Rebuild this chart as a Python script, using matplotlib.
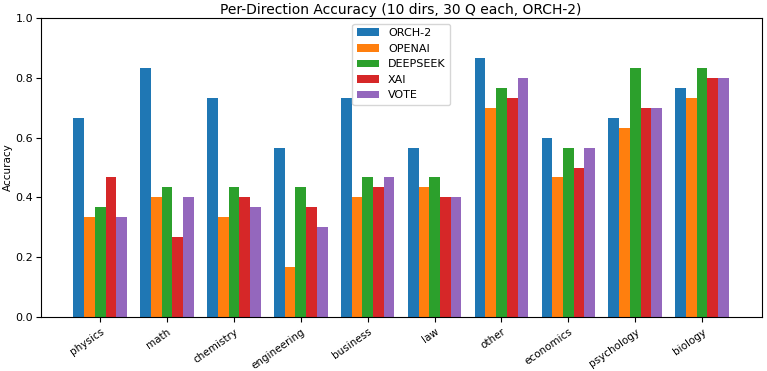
import matplotlib
matplotlib.use("Agg")
import matplotlib.pyplot as plt
import numpy as np

directions = ["physics", "math", "chemistry", "engineering", "business",
              "law", "other", "economics", "psychology", "biology"]
models = ["ORCH-2", "OPENAI", "DEEPSEEK", "XAI", "VOTE"]

# correct answers out of 30 per direction
orch2 = [20, 25, 22, 17, 22, 17, 26, 18, 20, 23]
openai = [10, 12, 10, 5, 12, 13, 21, 14, 19, 22]
deepseek = [11, 13, 13, 13, 14, 14, 23, 17, 25, 25]
xai = [14, 8, 12, 11, 13, 12, 22, 15, 21, 24]
vote = [10, 12, 11, 9, 14, 12, 24, 17, 21, 24]

series = [orch2, openai, deepseek, xai, vote]
colors = ["#1f77b4", "#ff7f0e", "#2ca02c", "#d62728", "#9467bd"]

fig = plt.figure(figsize=(7.67, 3.71), dpi=100)
ax = fig.add_axes([0.053, 0.146, 0.94, 0.805])

x = np.arange(len(directions))
w = 0.16
for i, (name, vals) in enumerate(zip(models, series)):
    acc = np.array(vals) / 30
    ax.bar(x + (i - 2) * w, acc, w, label=name, color=colors[i])

ax.set_xticks(x)
ax.set_xticklabels(directions, rotation=35, ha="right", rotation_mode="anchor", fontsize=7.5)
ax.tick_params(axis="y", labelsize=8, pad=2)
ax.set_ylim(0, 1.0)
ax.set_ylabel("Accuracy", fontsize=7.5, labelpad=2)
ax.set_title("Per-Direction Accuracy (10 dirs, 30 Q each, ORCH-2)", fontsize=10, pad=3)
ax.legend(loc="upper center", fontsize=8)

fig.savefig("out.png", dpi=100)
